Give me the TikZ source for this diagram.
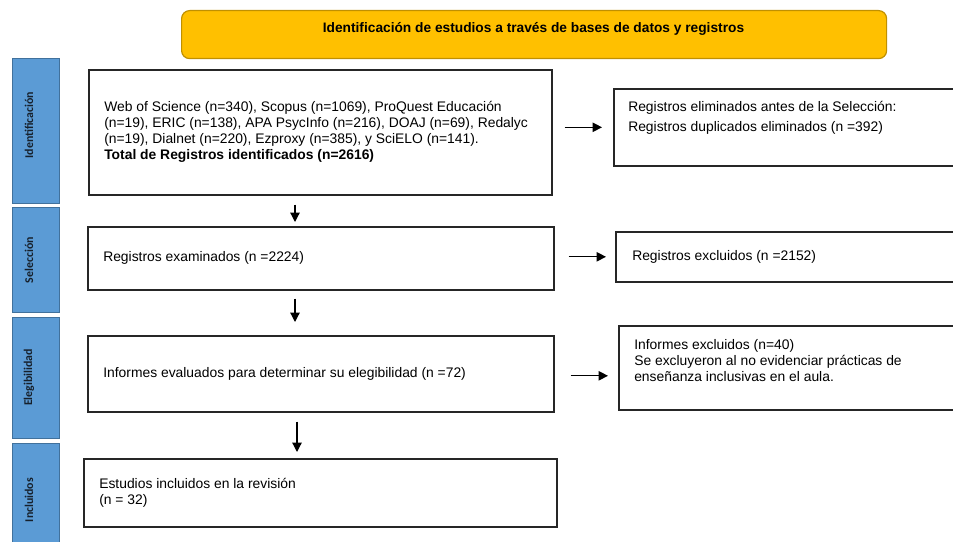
\documentclass[tikz,border=0pt]{standalone}
\usepackage{fontspec}
\setmainfont{Liberation Sans}
\newfontfamily\lblfont{Carlito Bold}
\usetikzlibrary{arrows.meta}
\definecolor{hdrfill}{HTML}{FFC000}
\definecolor{hdrdraw}{HTML}{C09000}
\definecolor{barfill}{HTML}{5B9BD5}
\definecolor{bardraw}{HTML}{41719C}
\definecolor{bartext}{HTML}{16202B}
\newcommand\pxu{0.75pt}
\tikzset{
  box/.style={draw=black!85, line width=1.2pt, inner sep=0pt, anchor=north west},
  hdr/.style={draw=hdrdraw, fill=hdrfill, line width=0.9pt, rounded corners=6pt, inner sep=0pt, anchor=north west},
  bar/.style={draw=bardraw, fill=barfill, line width=1.1pt, inner sep=0pt, anchor=north west, minimum width=47*\pxu},
  txt/.style={anchor=west, align=left, inner sep=0pt, font=\fontsize{10.4}{12}\selectfont},
  lbl/.style={rotate=90, inner sep=0pt, text=bartext, font=\lblfont\fontsize{8.9}{10}\selectfont},
  arr/.style={line width=0.9pt, -{Triangle[width=7pt,length=7pt]}}
}
\begin{document}
\begin{tikzpicture}[x=0.75pt,y=-0.75pt]
\useasboundingbox (0,0) rectangle (953,542);
\clip (0,0) rectangle (953,542);
% header
\node[hdr, minimum width=705*\pxu, minimum height=48*\pxu] (hdr) at (181,10) {};
\node[inner sep=0pt, font=\bfseries\fontsize{10.3}{12}\selectfont] (hdrt) at (533.5,29) {Identificación de estudios a través de bases de datos y registros};
% side bars
\node[bar, minimum height=145*\pxu] (s1) at (12,58) {};
\node[bar, minimum height=105*\pxu] (s2) at (12,207) {};
\node[bar, minimum height=121*\pxu] (s3) at (12,317) {};
\node[bar, minimum height=110*\pxu] (s4) at (12,443) {};
\node[lbl] (l1) at (29,125) {Identificación};
\node[lbl] (l2) at (29,260) {Selección};
\node[lbl] (l3) at (29,377.5) {Elegibilidad};
\node[lbl] (l4) at (29,500) {Incluidos};
% main boxes
\node[box, minimum width=463*\pxu, minimum height=125*\pxu] (b1) at (88,69) {};
\node[box, minimum width=466*\pxu, minimum height=63*\pxu] (b2) at (87,226) {};
\node[box, minimum width=466*\pxu, minimum height=76*\pxu] (b3) at (87,335) {};
\node[box, minimum width=473*\pxu, minimum height=68*\pxu] (b4) at (83,458) {};
% right boxes
\node[box, minimum width=360*\pxu, minimum height=77*\pxu] (r1) at (613,88) {};
\node[box, minimum width=360*\pxu, minimum height=50*\pxu] (r2) at (615,231) {};
\node[box, minimum width=360*\pxu, minimum height=84*\pxu] (r3) at (618,325) {};
% texts
\node[txt] (t1) at (104,132) {Web of Science (n=340), Scopus (n=1069), ProQuest Educación\\(n=19), ERIC (n=138), APA PsycInfo (n=216), DOAJ (n=69), Redalyc\\(n=19), Dialnet (n=220), Ezproxy (n=385), y SciELO (n=141).\\\textbf{Total de Registros identificados (n=2616)}};
\node[txt, font=\fontsize{10.4}{15}\selectfont] (tr1) at (628,118) {Registros eliminados antes de la Selección:\\Registros duplicados eliminados (n =392)};
\node[txt] (t2) at (103,258) {Registros examinados (n =2224)};
\node[txt] (tr2) at (632,256.5) {Registros excluidos (n =2152)};
\node[txt] (t3) at (103,374) {Informes evaluados para determinar su elegibilidad (n =72)};
\node[txt] (tr3) at (634,361) {Informes excluidos (n=40)\\Se excluyeron al no evidenciar prácticas de\\enseñanza inclusivas en el aula.};
\node[txt] (t4) at (99,492.5) {Estudios incluidos en la revisión\\(n = 32)};
% arrow x positions
\coordinate (xa) at (295,0);
\coordinate (xb) at (297,0);
% down arrows
\draw[arr, shorten <=9*\pxu, shorten >=4*\pxu] (b1.south -| xa) -- (b2.north -| xa);
\draw[arr, shorten <=8*\pxu, shorten >=13*\pxu] (b2.south -| xa) -- (b3.north -| xa);
\draw[arr, shorten <=9*\pxu, shorten >=6*\pxu] (b3.south -| xb) -- (b4.north -| xb);
% side arrows
\draw[arr, shorten <=12*\pxu, shorten >=11*\pxu] (r1.west -| b1.east) -- (r1.west);
\draw[arr, shorten <=14*\pxu, shorten >=9*\pxu] (r2.west -| b2.east) -- (r2.west);
\draw[arr, shorten <=16*\pxu, shorten >=10*\pxu] ([yshift=-2*\pxu]b3.east) -- ([yshift=-2*\pxu]b3.east -| r3.west);
\end{tikzpicture}
\end{document}
